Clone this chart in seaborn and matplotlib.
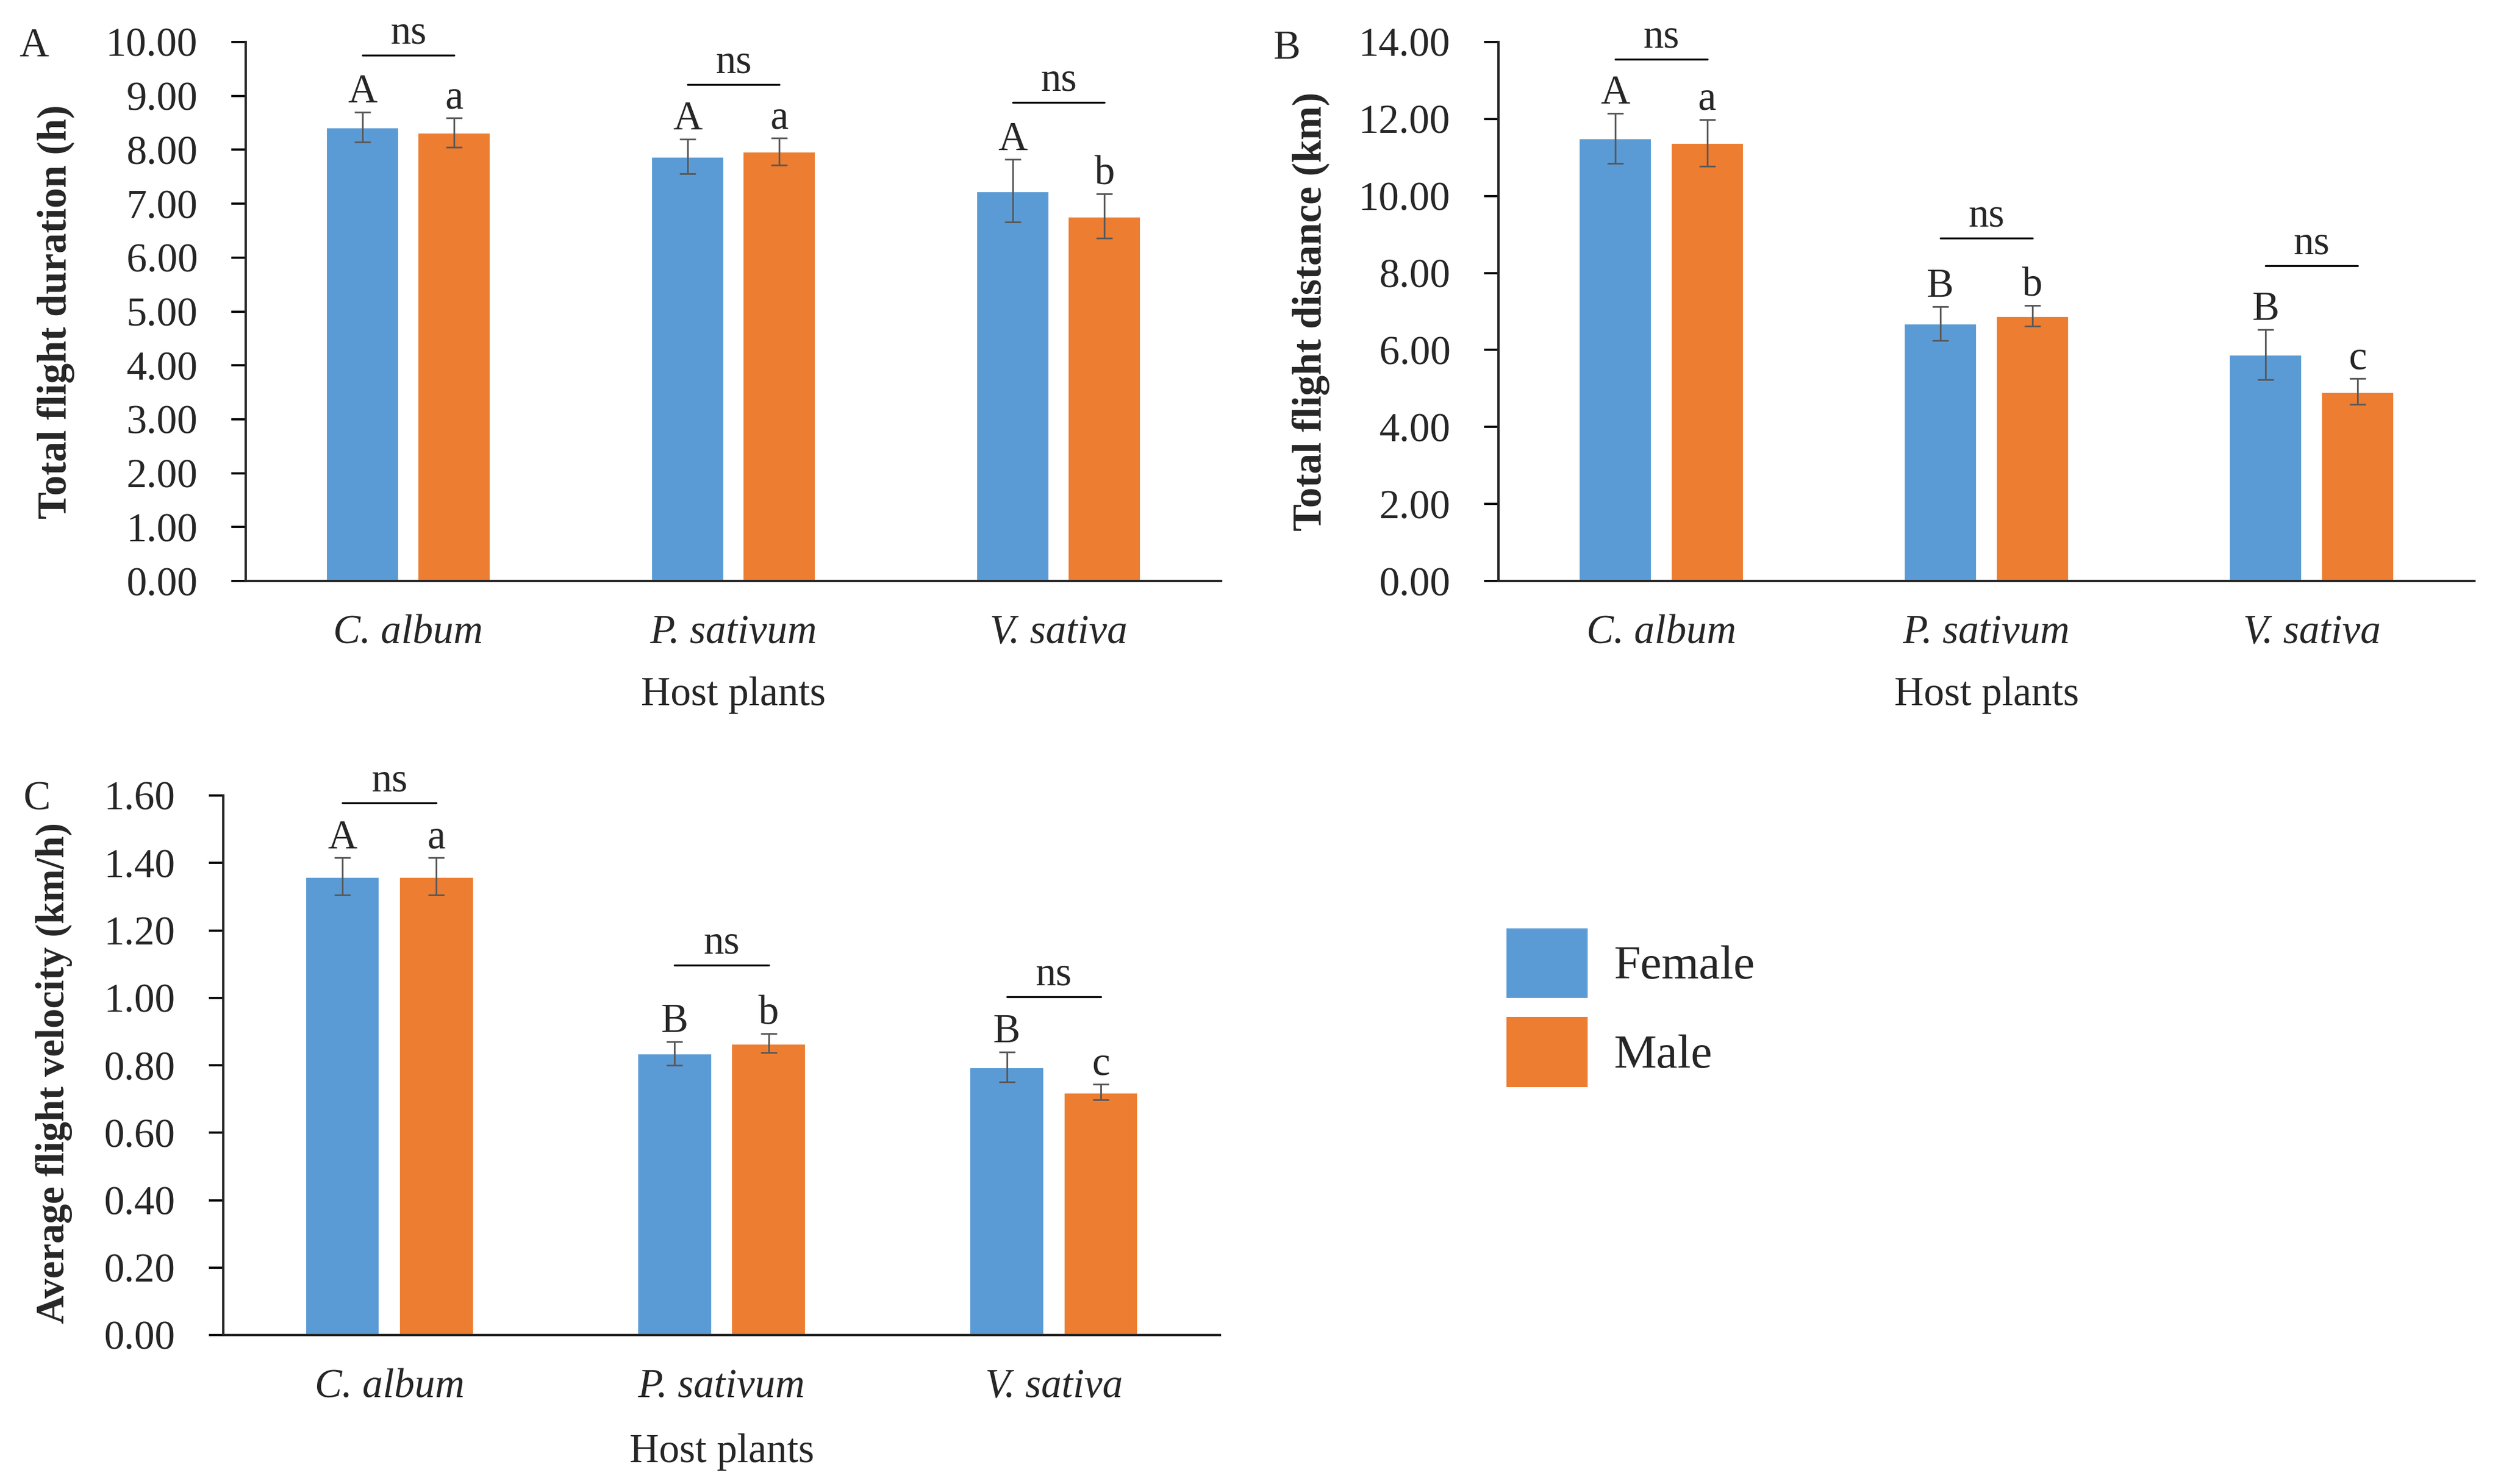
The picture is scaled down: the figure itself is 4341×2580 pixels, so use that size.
import pandas as pd
import matplotlib.pyplot as plt
import seaborn as sns
from matplotlib.patches import Patch

hosts = ['C. album', 'P. sativum', 'V. sativa']
sexes = ['Female', 'Male']

duration_female = [8.42, 7.88, 7.24]
duration_male = [8.32, 7.97, 6.77]
duration_female_se = [0.28, 0.32, 0.58]
duration_male_se = [0.27, 0.25, 0.41]
duration_letters_female = ['A', 'A', 'A']
duration_letters_male = ['a', 'a', 'b']
duration_ns_y = [9.75, 9.21, 8.88]

distance_female = [11.50, 6.69, 5.88]
distance_male = [11.38, 6.89, 4.92]
distance_female_se = [0.65, 0.44, 0.65]
distance_male_se = [0.61, 0.27, 0.34]
distance_letters_female = ['A', 'B', 'B']
distance_letters_male = ['a', 'b', 'c']
distance_ns_y = [13.55, 8.90, 8.19]

velocity_female = [1.36, 0.835, 0.795]
velocity_male = [1.36, 0.865, 0.72]
velocity_female_se = [0.055, 0.035, 0.045]
velocity_male_se = [0.055, 0.028, 0.023]
velocity_letters_female = ['A', 'B', 'B']
velocity_letters_male = ['a', 'b', 'c']
velocity_ns_y = [1.578, 1.097, 1.003]

colors = ['#5B9BD5', '#ED7D31']

sns.set_style('ticks')
plt.rcParams['font.family'] = ['Liberation Serif', 'DejaVu Serif']

W, H = 4341, 2580
fig = plt.figure(figsize=(W / 300, H / 300), dpi=300)


def px_axes(left, top, right, bottom):
    return fig.add_axes([left / W, 1 - bottom / H, (right - left) / W, (bottom - top) / H])


def plot_panel(ax, female, male, female_se, male_se, let_f, let_m, ns_y,
               ymax, step, ylabel, label_x, label_y, label_size, xlabel_y):
    df = pd.DataFrame({
        'host': hosts * 2,
        'sex': ['Female'] * 3 + ['Male'] * 3,
        'value': female + male,
    })
    sns.barplot(data=df, x='host', y='value', hue='sex', order=hosts, hue_order=sexes,
                palette=colors, width=0.566, gap=0.2, errorbar=None, legend=False,
                saturation=1, ax=ax)

    # bar centres, female then male in each group
    bars = sorted(ax.patches, key=lambda p: p.get_x())
    xs = [b.get_x() + b.get_width() / 2 for b in bars]
    vals, errs, labs = [], [], []
    for i in range(3):
        vals += [female[i], male[i]]
        errs += [female_se[i], male_se[i]]
        labs += [let_f[i], let_m[i]]

    ax.errorbar(xs, vals, yerr=errs, fmt='none', ecolor='#595959',
                elinewidth=0.7, capsize=3.4, capthick=0.7)

    for x, v, e, lab in zip(xs, vals, errs, labs):
        ax.annotate(lab, (x, v + e), xytext=(0, 4), textcoords='offset points',
                    ha='center', va='baseline', fontsize=17)

    for i in range(3):
        x0, x1 = xs[2 * i], xs[2 * i + 1]
        ax.plot([x0, x1], [ns_y[i], ns_y[i]], color='black', lw=0.8)
        ax.annotate('ns', ((x0 + x1) / 2, ns_y[i]), xytext=(0, 5),
                    textcoords='offset points', ha='center', va='baseline', fontsize=17)

    ax.set_xlim(-0.5, 2.5)
    ax.set_ylim(0, ymax)
    n = int(round(ymax / step))
    ax.set_yticks([k * step for k in range(n + 1)])
    ax.set_yticklabels([f'{k * step:.2f}' for k in range(n + 1)], fontsize=17)
    ax.set_xticks(range(3))
    ax.set_xticklabels(hosts, fontsize=17, style='italic')
    ax.tick_params(axis='x', length=0, pad=14)
    ax.tick_params(axis='y', length=6, width=0.9, pad=14, color='black')

    ax.set_ylabel(ylabel, fontsize=label_size, fontweight='bold')
    ax.yaxis.set_label_coords(label_x, label_y)
    ax.set_xlabel('Host plants', fontsize=17)
    ax.xaxis.set_label_coords(0.5, xlabel_y)
    ax.xaxis.label.set_va('top')

    sns.despine(ax=ax)
    for side in ['left', 'bottom']:
        ax.spines[side].set_linewidth(1.0)
        ax.spines[side].set_color('#262626')


ax_a = px_axes(427, 73, 2122, 1010)
ax_b = px_axes(2604, 73, 4300, 1010)
ax_c = px_axes(388, 1383, 2120, 2321)

plot_panel(ax_a, duration_female, duration_male, duration_female_se, duration_male_se,
           duration_letters_female, duration_letters_male, duration_ns_y,
           10, 1, 'Total flight duration (h)', -0.175, 0.5, 17, -0.177)
plot_panel(ax_b, distance_female, distance_male, distance_female_se, distance_male_se,
           distance_letters_female, distance_letters_male, distance_ns_y,
           14, 2, 'Total flight distance (km)', -0.173, 0.5, 17, -0.177)
plot_panel(ax_c, velocity_female, velocity_male, velocity_female_se, velocity_male_se,
           velocity_letters_female, velocity_letters_male, velocity_ns_y,
           1.6, 0.2, 'Average flight velocity (km/h)', -0.151, 0.486, 16.5, -0.182)

fig.text(33 / W, 1 - 48 / H, 'A', fontsize=17, ha='left', va='top')
fig.text(2213 / W, 1 - 52 / H, 'B', fontsize=17, ha='left', va='top')
fig.text(40 / W, 1 - 1357 / H, 'C', fontsize=17, ha='left', va='top')

handles = [Patch(facecolor=c, edgecolor='none') for c in colors]
fig.legend(handles, sexes, loc='upper left', bbox_to_anchor=(2618 / W, 1 - 1614 / H),
           frameon=False, fontsize=20, handlelength=1.69, handleheight=1.86,
           labelspacing=0.4, handletextpad=0.55, borderpad=0, borderaxespad=0)

fig.savefig('out.png', dpi=300)
